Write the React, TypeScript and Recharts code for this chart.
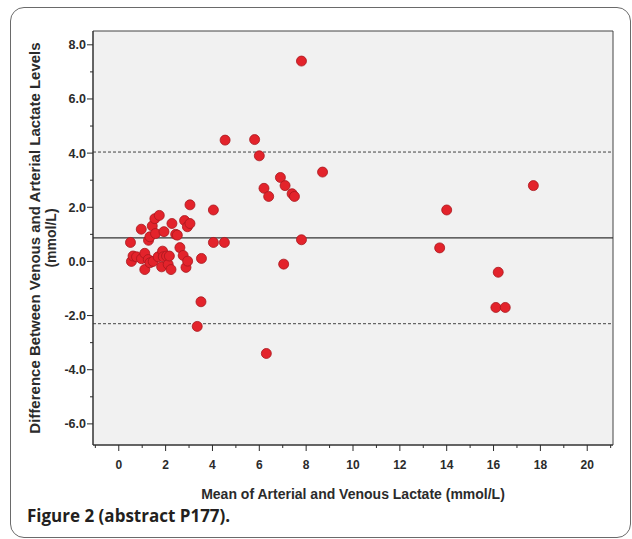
import React from "react";
import {
  ScatterChart,
  Scatter,
  XAxis,
  YAxis,
  ReferenceLine,
  ReferenceArea,
} from "recharts";

// mean of arterial and venous lactate (mmol/L)
const meanLactate = [
  0.5, 0.54, 0.61, 0.76, 0.96, 0.97, 1.11, 1.11, 1.26, 1.27, 1.33, 1.33, 1.43,
  1.47, 1.54, 1.57, 1.68, 1.73, 1.83, 1.87, 1.9, 1.93, 2.04, 2.11, 2.16, 2.23,
  2.27, 2.43, 2.5, 2.61, 2.75, 2.81, 2.87, 2.93, 2.94, 3.04, 3.04, 3.53, 3.51,
  3.35, 4.04, 4.04, 4.51, 4.54, 5.8, 6.0, 6.2, 6.4, 6.9, 7.1, 7.4, 7.5, 7.8,
  7.8, 7.04, 8.7, 6.3, 13.7, 14.0, 16.2, 16.1, 16.5, 17.7,
];
// venous minus arterial (mmol/L)
const diffLactate = [
  0.7, 0.0, 0.2, 0.17, 1.19, 0.1, 0.3, -0.3, 0.07, 0.78, 0.91, -0.05, 1.31,
  0.0, 1.58, 1.03, 0.17, 1.7, -0.2, 0.38, 0.17, 1.1, 0.2, -0.11, 0.2, -0.3,
  1.4, 1.0, 0.97, 0.51, 0.22, 1.51, -0.22, 1.28, 0.01, 1.4, 2.09, 0.11, -1.49,
  -2.4, 1.9, 0.7, 0.7, 4.48, 4.5, 3.9, 2.7, 2.4, 3.1, 2.8, 2.5, 2.4, 7.4, 0.8,
  -0.1, 3.3, -3.4, 0.5, 1.9, -0.4, -1.7, -1.7, 2.8,
];

const bias = 0.87;
const upperLimit = 4.04;
const lowerLimit = -2.3;

const xTicks = Array.from({ length: 23 }, (_, i) => i - 1); // -1..21
const yTicks = Array.from({ length: 15 }, (_, i) => i - 6); // -6..8
const xDomain = [-1.1, 21.1];
const yDomain = [-6.78, 8.51];

const points = meanLactate.map((m, i) => ({ x: m, y: diffLactate[i] }));

const axisFont = "'Liberation Sans', Arial, sans-serif";
const ink = "#2b2b2b";

function XTick(props: any) {
  const { x, y, payload } = props;
  const v = payload.value;
  const major = v % 2 === 0;
  return (
    <g>
      <line x1={x} y1={y} x2={x} y2={y + (major ? 6 : 3)} stroke={ink} />
      {major && v >= 0 && v <= 20 && (
        <text
          x={x}
          y={y + 24}
          textAnchor="middle"
          fontFamily={axisFont}
          fontWeight="bold"
          fontSize={12}
          fill={ink}
        >
          {v}
        </text>
      )}
    </g>
  );
}

function YTick(props: any) {
  const { x, y, payload } = props;
  const v = payload.value;
  const major = v % 2 === 0;
  return (
    <g>
      <line x1={x} y1={y} x2={x - (major ? 6 : 3)} y2={y} stroke={ink} />
      {major && (
        <text
          x={x - 7}
          y={y + 4.5}
          textAnchor="end"
          fontFamily={axisFont}
          fontWeight="bold"
          fontSize={12.5}
          fill={ink}
        >
          {v.toFixed(1)}
        </text>
      )}
    </g>
  );
}

const Dot = (props: any) => (
  <circle
    cx={props.cx}
    cy={props.cy}
    r={5}
    fill="#e3232b"
    stroke="#a8181e"
    strokeWidth={0.8}
  />
);

export default function App() {
  return (
    <div
      style={{
        position: "absolute",
        left: 0,
        top: 0,
        width: 632,
        height: 539,
        overflow: "hidden",
        background: "#fff",
      }}
    >
      {/* rounded figure frame */}
      <div
        style={{
          position: "absolute",
          left: 10,
          top: 7,
          width: 619,
          height: 529,
          border: "1px solid #6a6a6a",
          borderRadius: 14,
        }}
      />
      <div style={{ position: "absolute", left: 0, top: 0 }}>
        <ScatterChart
          width={632}
          height={510}
          margin={{ top: 31, right: 19, bottom: 0, left: 0 }}
        >
          <ReferenceArea
            x1={xDomain[0]}
            x2={xDomain[1]}
            y1={yDomain[0]}
            y2={yDomain[1]}
            fill="#f1f1f1"
            fillOpacity={1}
            stroke="#444"
            strokeWidth={1}
          />
          <XAxis
            type="number"
            dataKey="x"
            domain={xDomain}
            ticks={xTicks}
            interval={0}
            allowDataOverflow
            height={65}
            tickSize={0}
            tickMargin={0}
            tickLine={false}
            tick={<XTick />}
            stroke={ink}
            label={{
              content: ({ viewBox }: any) => (
                <text
                  x={viewBox.x + viewBox.width / 2}
                  y={viewBox.y + 54}
                  textAnchor="middle"
                  fontFamily={axisFont}
                  fontWeight="bold"
                  fontSize={14}
                  fill={ink}
                >
                  Mean of Arterial and Venous Lactate (mmol/L)
                </text>
              ),
            }}
          />
          <YAxis
            type="number"
            dataKey="y"
            domain={yDomain}
            ticks={yTicks}
            interval={0}
            allowDataOverflow
            width={93}
            tickSize={0}
            tickMargin={0}
            tickLine={false}
            tick={<YTick />}
            stroke={ink}
            label={{
              content: ({ viewBox }: any) => {
                const cy = viewBox.y + viewBox.height / 2;
                return (
                  <g>
                    <text
                      transform={`translate(40, ${cy}) rotate(-90)`}
                      textAnchor="middle"
                      fontFamily={axisFont}
                      fontWeight="bold"
                      fontSize={15}
                      fill={ink}
                    >
                      Difference Between Venous and Arterial Lactate Levels
                    </text>
                    <text
                      transform={`translate(56, ${cy}) rotate(-90)`}
                      textAnchor="middle"
                      fontFamily={axisFont}
                      fontWeight="bold"
                      fontSize={14}
                      fill={ink}
                    >
                      (mmol/L)
                    </text>
                  </g>
                );
              },
            }}
          />
          <ReferenceLine y={bias} stroke="#333" strokeWidth={1.2} />
          <ReferenceLine
            y={upperLimit}
            stroke="#444"
            strokeDasharray="3 2"
            strokeWidth={1}
          />
          <ReferenceLine
            y={lowerLimit}
            stroke="#444"
            strokeDasharray="3 2"
            strokeWidth={1}
          />
          <Scatter data={points} shape={<Dot />} isAnimationActive={false} />
        </ScatterChart>
      </div>
      <div
        style={{
          position: "absolute",
          left: 27,
          top: 504,
          fontFamily: "'Open Sans', sans-serif",
          fontWeight: 700,
          fontSize: 17,
          color: "#231f20",
        }}
      >
        Figure 2 (abstract P177).
      </div>
    </div>
  );
}
